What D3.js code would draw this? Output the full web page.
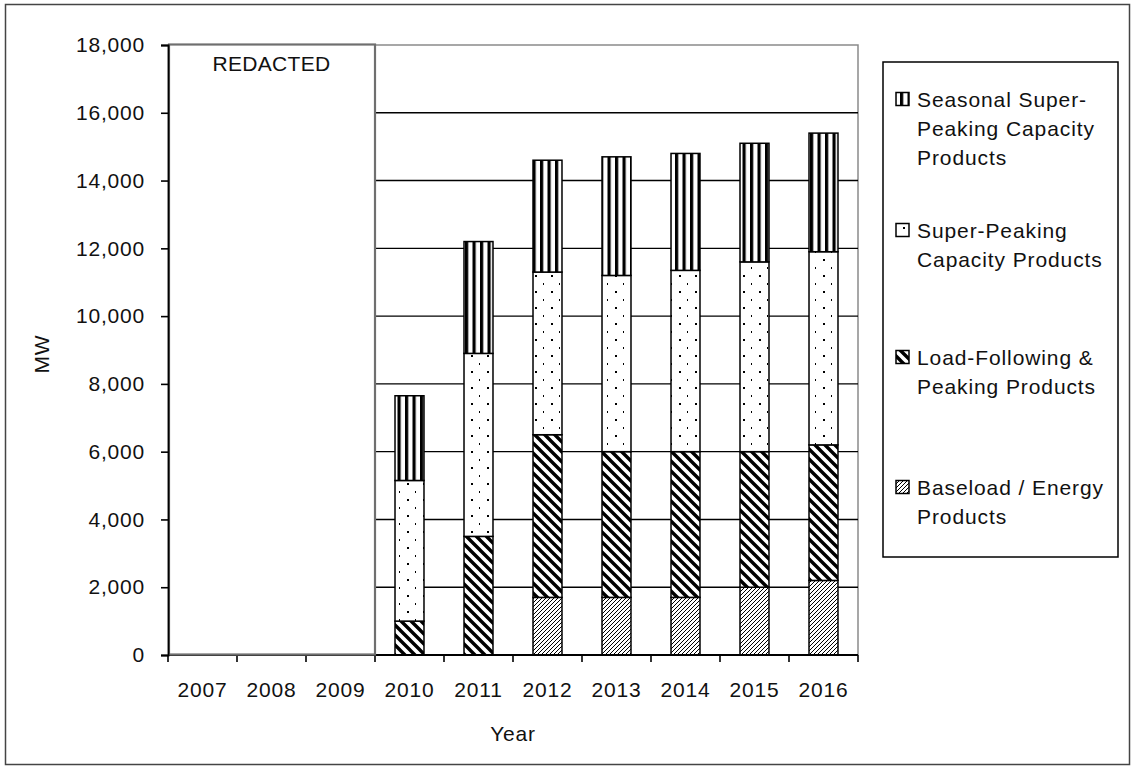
<!DOCTYPE html>
<html>
<head>
<meta charset="utf-8">
<script src="https://cdn.jsdelivr.net/npm/d3@7"></script>
<style>
  html, body { margin: 0; padding: 0; background: #fff; }
  svg text { font-family: "Liberation Sans", Arial, sans-serif; fill: #111; }
</style>
</head>
<body>
<svg id="chart" width="1135" height="769"></svg>
<script>
// Capacity by product type, MW (2007-2009 withheld)
const years = ["2007", "2008", "2009", "2010", "2011", "2012", "2013", "2014", "2015", "2016"];
const baseload      = [null, null, null,    0,    0, 1700, 1700, 1700, 2000, 2200];
const loadFollowing = [null, null, null, 1000, 3500, 4800, 4300, 4300, 4000, 4000];
const superPeaking  = [null, null, null, 4150, 5400, 4800, 5200, 5350, 5600, 5700];
const seasonalSuper = [null, null, null, 2500, 3300, 3300, 3500, 3450, 3500, 3500];
const yTicks = [0, 2000, 4000, 6000, 8000, 10000, 12000, 14000, 16000, 18000];
const redactedYears = ["2007", "2008", "2009"];

const seriesKeys = ["base", "lf", "sp", "ssp"];
const legendLines = {
  ssp: ["Seasonal Super-", "Peaking Capacity", "Products"],
  sp: ["Super-Peaking", "Capacity Products"],
  lf: ["Load-Following &", "Peaking Products"],
  base: ["Baseload / Energy", "Products"]
};

const rows = years.map((y, i) => ({
  year: y, base: baseload[i] || 0, lf: loadFollowing[i] || 0,
  sp: superPeaking[i] || 0, ssp: seasonalSuper[i] || 0
})).filter((d, i) => baseload[i] !== null);

const svg = d3.select("#chart");
const FONT = 21;

// hatch fills
const defs = svg.append("defs");
const pBase = defs.append("pattern").attr("id", "pat-base").attr("patternUnits", "userSpaceOnUse")
  .attr("width", 4).attr("height", 4);
pBase.append("rect").attr("width", 4).attr("height", 4).attr("fill", "#fff");
pBase.append("path").attr("d", "M-1,1 L1,-1 M0,4 L4,0 M3,5 L5,3")
  .attr("stroke", "#000").attr("stroke-width", 1);

const pLf = defs.append("pattern").attr("id", "pat-lf").attr("patternUnits", "userSpaceOnUse")
  .attr("width", 10).attr("height", 10);
pLf.append("rect").attr("width", 10).attr("height", 10).attr("fill", "#fff");
pLf.append("path").attr("d", "M-2,-2 L12,12 M-2,8 L2,12 M8,-2 L12,2")
  .attr("stroke", "#000").attr("stroke-width", 3.4);

const pSp = defs.append("pattern").attr("id", "pat-sp").attr("patternUnits", "userSpaceOnUse")
  .attr("width", 16).attr("height", 16);
pSp.append("rect").attr("width", 16).attr("height", 16).attr("fill", "#fff");
pSp.append("rect").attr("x", 7).attr("y", 3).attr("width", 2).attr("height", 2).attr("fill", "#000");
pSp.append("rect").attr("x", 15).attr("y", 11).attr("width", 2).attr("height", 2).attr("fill", "#000");

const pSsp = defs.append("pattern").attr("id", "pat-ssp").attr("patternUnits", "userSpaceOnUse")
  .attr("width", 7.5).attr("height", 10);
pSsp.append("rect").attr("width", 7.5).attr("height", 10).attr("fill", "#fff");
pSsp.append("rect").attr("x", 0).attr("width", 3.2).attr("height", 10).attr("fill", "#000");

const fills = { base: "url(#pat-base)", lf: "url(#pat-lf)", sp: "url(#pat-sp)", ssp: "url(#pat-ssp)" };

// outer frame
svg.append("rect").attr("x", 5.5).attr("y", 4.5).attr("width", 1124).attr("height", 760)
  .attr("fill", "#fff").attr("stroke", "#444").attr("stroke-width", 1.5);

const plot = { left: 168, right: 858, top: 45, bottom: 655 };

const x = d3.scaleBand().domain(years).range([plot.left, plot.right])
  .paddingInner(0.58).paddingOuter(0.29);
const y = d3.scaleLinear().domain([0, 18000]).range([plot.bottom, plot.top]);
const step = x.step();
const gap = (step - x.bandwidth()) / 2;

// plot-area frame (top and right, grey)
svg.append("path")
  .attr("d", `M${plot.left},${plot.top}H${plot.right}V${plot.bottom}`)
  .attr("fill", "none").attr("stroke", "#8a8a8a").attr("stroke-width", 1.5);

// gridlines
svg.append("g").selectAll("line").data(yTicks.filter(v => v > 0 && v < 18000)).join("line")
  .attr("x1", plot.left).attr("x2", plot.right)
  .attr("y1", d => y(d)).attr("y2", d => y(d))
  .attr("stroke", "#000").attr("stroke-width", 1.4);

// stacked bars
const stack = d3.stack().keys(seriesKeys)(rows);
const barG = svg.append("g");
stack.forEach(layer => {
  barG.append("g").selectAll("rect").data(layer.filter(d => d[1] > d[0])).join("rect")
    .attr("x", d => x(d.data.year))
    .attr("width", x.bandwidth())
    .attr("y", d => y(d[1]))
    .attr("height", d => y(d[0]) - y(d[1]))
    .attr("fill", fills[layer.key])
    .attr("stroke", "#000").attr("stroke-width", 1.5);
});

// x axis: labels centred on categories, ticks on category boundaries
const xAxis = d3.axisBottom(x).tickSize(0).tickPadding(27);
const gx = svg.append("g").attr("transform", `translate(0,${plot.bottom})`).call(xAxis);
gx.select(".domain").remove();
gx.selectAll("text").attr("font-size", FONT).attr("letter-spacing", 0.8)
  .attr("font-family", "Liberation Sans, Arial, sans-serif").attr("fill", "#111");
const bounds = years.map(d => x(d) - gap).concat([x(years[years.length - 1]) + x.bandwidth() + gap]);
svg.append("line").attr("x1", plot.left).attr("x2", plot.right)
  .attr("y1", plot.bottom).attr("y2", plot.bottom)
  .attr("stroke", "#000").attr("stroke-width", 1.8);
svg.append("g").selectAll("line").data(bounds).join("line")
  .attr("x1", d => d).attr("x2", d => d)
  .attr("y1", plot.bottom).attr("y2", plot.bottom + 7)
  .attr("stroke", "#000").attr("stroke-width", 1.6);

// withheld years
const rx0 = x(redactedYears[0]) - gap;
const rx1 = x(redactedYears[redactedYears.length - 1]) + x.bandwidth() + gap;
svg.append("rect").attr("x", rx0 + 1).attr("y", y(18000) - 0.5)
  .attr("width", rx1 - rx0 - 1).attr("height", y(0) - y(18000))
  .attr("fill", "#fff").attr("stroke", "#6f6f6f").attr("stroke-width", 2.2);
svg.append("text").attr("x", (rx0 + rx1) / 2).attr("y", y(18000) + 26)
  .attr("text-anchor", "middle").attr("font-size", FONT).attr("letter-spacing", 0.3)
  .text("REDACTED");

// y axis
const yAxis = d3.axisLeft(y).tickValues(yTicks).tickFormat(d3.format(","))
  .tickSize(7).tickPadding(16);
const gy = svg.append("g").attr("transform", `translate(${plot.left},0)`).call(yAxis);
gy.select(".domain").attr("stroke", "#000").attr("stroke-width", 1.8);
gy.selectAll(".tick line").attr("stroke", "#000").attr("stroke-width", 1.6);
gy.selectAll("text").attr("font-size", FONT).attr("letter-spacing", 0.8)
  .attr("font-family", "Liberation Sans, Arial, sans-serif").attr("fill", "#111");

// axis titles
svg.append("text").attr("x", (plot.left + plot.right) / 2).attr("y", 741)
  .attr("text-anchor", "middle").attr("font-size", FONT).attr("letter-spacing", 0.8).text("Year");
svg.append("text").attr("transform", "translate(49,354) rotate(-90)")
  .attr("text-anchor", "middle").attr("font-size", FONT).attr("letter-spacing", 0.8).text("MW");

// legend
const lg = svg.append("g");
lg.append("rect").attr("x", 883).attr("y", 62).attr("width", 235).attr("height", 495)
  .attr("fill", "#fff").attr("stroke", "#000").attr("stroke-width", 1.5);
const legendOrder = ["ssp", "sp", "lf", "base"];
const legendTop = [99, 230, 357, 487];
const lineH = 29;
legendOrder.forEach((k, i) => {
  const cy = legendTop[i];
  lg.append("rect").attr("x", 896).attr("y", cy - 6.5).attr("width", 13).attr("height", 13)
    .attr("fill", fills[k]).attr("stroke", "#000").attr("stroke-width", 1.5);
  const t = lg.append("text").attr("x", 917).attr("y", cy)
    .attr("font-size", FONT).attr("letter-spacing", 0.9);
  legendLines[k].forEach((line, j) => {
    t.append("tspan").attr("x", 917).attr("y", cy + j * lineH).attr("dy", "0.36em").text(line);
  });
});
</script>
</body>
</html>
